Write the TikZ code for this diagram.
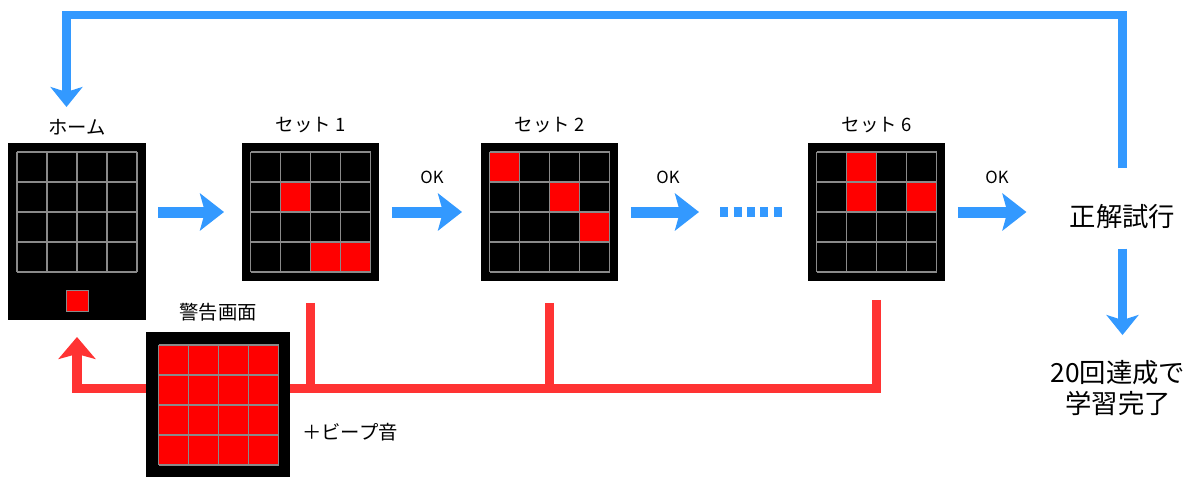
\documentclass[tikz,border=0pt]{standalone}
\usepackage{fontspec}
\setmainfont{Noto Sans CJK JP}
\usetikzlibrary{arrows.meta,calc,positioning}
\definecolor{flowblue}{HTML}{3399FF}
\definecolor{alarmred}{HTML}{FF3333}
\definecolor{cellred}{HTML}{FF0000}
\definecolor{gridgray}{HTML}{8A8A8A}
\begin{document}
\begin{tikzpicture}[x=0.02cm, y=-0.02cm,
  panel/.style={rectangle,fill=black,inner sep=0pt,outer sep=0pt,minimum width=2.76cm,minimum height=2.76cm},
  lbl/.style={inner sep=0pt,font=\fontsize{11}{13}\selectfont},
  setlbl/.style={inner sep=0pt,font=\fontsize{10.5}{12}\selectfont},
  big/.style={inner sep=0pt,font=\fontsize{15}{17.6}\selectfont},
  gridline/.style={draw=gridgray,line width=0.8pt},
  flow/.style={flowblue,line width=0.22cm,-{Stealth[length=0.48cm,width=0.74cm,inset=0.1cm]},shorten <=0.25cm},
  loopline/.style={flowblue,line width=0.17cm,line join=miter,-{Stealth[length=0.4cm,width=0.64cm,inset=0.1cm]}},
  alarm/.style={alarmred,line width=0.19cm,line join=miter}]
\useasboundingbox (0,0) rectangle (1198,477);
% screens
\node [panel,minimum height=3.54cm] (home) at (77,231.5) {};
\node [panel] (set1) at (310.5,212) {};
\node [panel] (set2) at (549.5,212) {};
\node [panel] (set6) at (876.5,212) {};
\node [lbl,above=0.16cm of home] (homelbl) {ホーム};
\node [setlbl,above=0.2cm of set1] (set1lbl) {セット 1};
\node [setlbl,above=0.2cm of set2] (set2lbl) {セット 2};
\node [setlbl,above=0.2cm of set6] (set6lbl) {セット 6};
\node [setlbl,font=\fontsize{9.5}{11}\selectfont] (ok1) at (432,177) {OK};
\node [setlbl,font=\fontsize{9.5}{11}\selectfont] (ok2) at (668,177) {OK};
\node [setlbl,font=\fontsize{9.5}{11}\selectfont] (ok3) at (997,177) {OK};
\node [big] (solve) at (1122.5,217) {正解試行};
\node [big,align=center] (done) at (1118,388) {20回達成で\\学習完了};
\node [rectangle,fill=cellred,draw=gridgray,line width=0.5pt,minimum width=0.44cm,minimum height=0.42cm,inner sep=0pt] (led) at ($(home.south)+(0,-19)$) {};
% lit cells
\foreach \n/\c/\r in {set1/1/1,set1/2/3,set1/3/3,set2/0/0,set2/2/1,set2/3/2,set6/1/0,set6/1/1,set6/3/1}
  \fill [cellred] ($(\n.north west)+(9+30*\c,9+30*\r)$) rectangle ++(30,30);
\foreach \n in {home,set1,set2,set6}
  \foreach \i in {0,...,4} {
    \draw [gridline] ($(\n.north west)+(9+30*\i,9)$) -- ++(0,120);
    \draw [gridline] ($(\n.north west)+(9,9+30*\i)$) -- ++(120,0);
  }
% flow
\draw [flow,shorten >=0.35cm] (home.east |- set1.west) -- (set1.west);
\draw [flow,shorten >=0.37cm] (set1.east) -- (set2.west);
\coordinate (gapL) at (720,212);
\coordinate (gapR) at (782,212);
\draw [flow,shorten >=0.42cm] (set2.east) -- (gapL);
\draw [flowblue,line width=0.2cm,dash pattern=on 0.16cm off 0.11cm] (gapL) -- (gapR);
\draw [flow,shorten >=0.86cm] (set6.east) -- (set6.east -| solve.west);
\draw [loopline,shorten <=0.38cm,shorten >=0.5cm] (solve.south) -- (solve.south |- done.north);
\coordinate (tl) at (66.5,15);
\coordinate (homein) at (66.5,107);
\draw [loopline,shorten <=0.72cm] (solve.north) |- (tl) -- (homein);
% failure
\coordinate (bus) at (77,388.5);
\draw [alarm,shorten <=0.44cm] (set1.south) -- (set1.south |- bus);
\draw [alarm,shorten <=0.44cm] (set2.south) -- (set2.south |- bus);
\draw [alarm,shorten <=0.38cm,shorten >=0.34cm,-{Stealth[length=0.44cm,width=0.74cm,inset=0.1cm]}] (set6.south) |- (bus) -- (home.south);
\node [panel,minimum width=2.88cm,minimum height=2.9cm] (warn) at (218,404.5) {};
\fill [cellred] ($(warn.north west)+(12.5,13)$) rectangle ++(120,120);
\foreach \i in {0,...,4} {
  \draw [gridline] ($(warn.north west)+(12.5+30*\i,13)$) -- ++(0,120);
  \draw [gridline] ($(warn.north west)+(12.5,13+30*\i)$) -- ++(120,0);
}
\node [lbl,above=0.2cm of warn] (warnlbl) {警告画面};
\node [lbl] (beep) at (350,432) {＋ビープ音};
\end{tikzpicture}
\end{document}
